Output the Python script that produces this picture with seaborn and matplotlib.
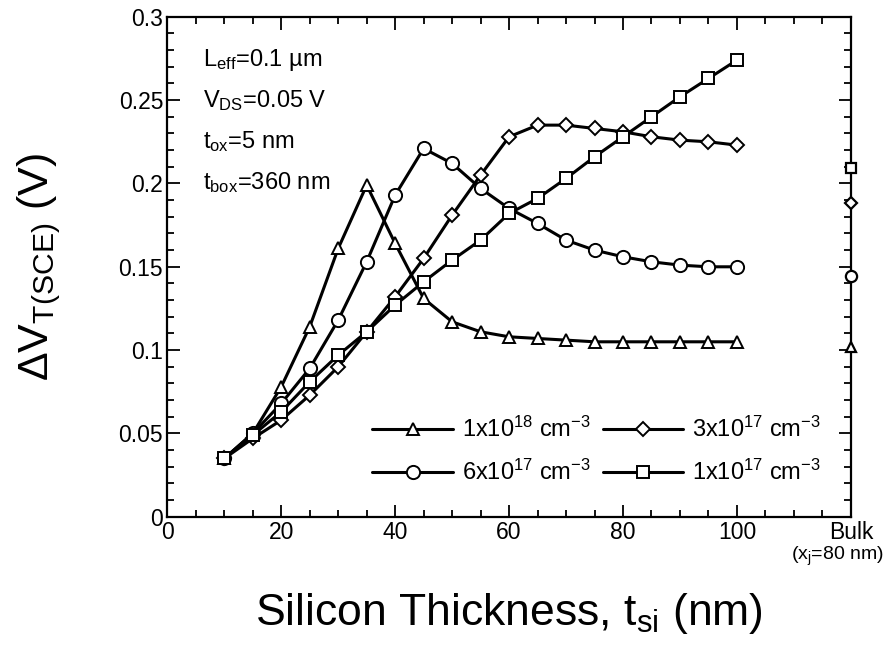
import pandas as pd
import numpy as np
import matplotlib
matplotlib.use('Agg')
import matplotlib.pyplot as plt
import seaborn as sns
from matplotlib.lines import Line2D

# silicon thickness values (nm)
tsi = [10, 15, 20, 25, 30, 35, 40, 45, 50, 55, 60, 65, 70, 75, 80, 85, 90, 95, 100]

# delta VT(SCE) for each doping level
vt_1e18 = [0.035, 0.050, 0.078, 0.114, 0.161, 0.199, 0.164, 0.131, 0.117, 0.111,
           0.108, 0.107, 0.106, 0.105, 0.105, 0.105, 0.105, 0.105, 0.105]
vt_6e17 = [0.035, 0.050, 0.068, 0.089, 0.118, 0.153, 0.193, 0.221, 0.212, 0.197,
           0.185, 0.176, 0.166, 0.160, 0.156, 0.153, 0.151, 0.150, 0.150]
vt_3e17 = [0.035, 0.047, 0.058, 0.073, 0.090, 0.111, 0.132, 0.155, 0.181, 0.205,
           0.228, 0.235, 0.235, 0.233, 0.231, 0.228, 0.226, 0.225, 0.223]
vt_1e17 = [0.035, 0.049, 0.063, 0.081, 0.097, 0.111, 0.127, 0.141, 0.154, 0.166,
           0.182, 0.191, 0.203, 0.216, 0.228, 0.240, 0.252, 0.263, 0.274]

# bulk device values (xj = 80 nm)
bulk_x = 120
bulk_vals = [0.102, 0.1445, 0.188, 0.209]

series_names = ['1e18', '6e17', '3e17', '1e17']
series_labels = [r'1x10$^{18}$ cm$^{-3}$', r'6x10$^{17}$ cm$^{-3}$',
                 r'3x10$^{17}$ cm$^{-3}$', r'1x10$^{17}$ cm$^{-3}$']
marker_map = {'1e18': '^', '6e17': 'o', '3e17': 'D', '1e17': 's'}
size_map = {'1e18': 9, '6e17': 9.5, '3e17': 7.5, '1e17': 9}

df = pd.DataFrame({
    'tsi': tsi * 4,
    'dvt': vt_1e18 + vt_6e17 + vt_3e17 + vt_1e17,
    'doping': np.repeat(series_names, len(tsi)),
})

sns.set_style('ticks')
plt.rcParams['font.family'] = ['Liberation Sans', 'DejaVu Sans']
plt.rcParams['mathtext.default'] = 'regular'
plt.rcParams['text.color'] = 'black'
plt.rcParams['axes.labelcolor'] = 'black'
plt.rcParams['xtick.color'] = 'black'
plt.rcParams['ytick.color'] = 'black'

fig = plt.figure(figsize=(8.9, 6.46), dpi=100)
ax = fig.add_axes([0.188, 0.2, 0.768, 0.774])

# draw each doping curve through seaborn
for name in series_names:
    sub = df[df['doping'] == name]
    sns.lineplot(data=sub, x='tsi', y='dvt', ax=ax, color='black', lw=2.2,
                 marker=marker_map[name], markersize=size_map[name],
                 markerfacecolor='white', markeredgecolor='black',
                 markeredgewidth=1.4, legend=False, zorder=3)

# bulk points sitting on the right spine
for i, name in enumerate(series_names):
    ax.plot(bulk_x, bulk_vals[i], marker=marker_map[name],
            markersize=size_map[name] * 0.85, mfc='white', mec='black', mew=1.6,
            clip_on=False, zorder=5, ls='none')

ax.set_xlim(0, 120)
ax.set_ylim(0, 0.3)
ax.set_xticks([0, 20, 40, 60, 80, 100, 120])
ax.set_xticklabels(['0', '20', '40', '60', '80', '100', 'Bulk'])
ax.set_xticks(np.arange(0, 121, 5), minor=True)
ax.set_yticks([0, 0.05, 0.1, 0.15, 0.2, 0.25, 0.3])
ax.set_yticklabels(['0', '0.05', '0.1', '0.15', '0.2', '0.25', '0.3'])
ax.set_yticks(np.arange(0, 0.301, 0.01), minor=True)
ax.tick_params(which='both', direction='in', top=True, right=True, width=1.3,
               labelsize=16.5, pad=3)
ax.tick_params(which='major', length=9)
ax.tick_params(which='minor', length=5)
for sp in ax.spines.values():
    sp.set_linewidth(1.6)
    sp.set_color('black')

fig.text(0.993, 1 - 556 / 646, r'(x$_j$=80 nm)', fontsize=14, ha='right', va='center')

ax.set_xlabel(r'Silicon Thickness, t$_{si}$ (nm)', fontsize=32, labelpad=34)
ax.set_ylabel(r'ΔV$_{T(SCE)}$ (V)', fontsize=31, labelpad=40)

# device parameters
params = [r'L$_{eff}$=0.1 µm', r'V$_{DS}$=0.05 V', r't$_{ox}$=5 nm', r't$_{box}$=360 nm']
for i, p in enumerate(params):
    ax.text(6.3, 0.274 - i * 0.0245, p, fontsize=17, ha='left', va='center')

handles = [Line2D([], [], color='black', lw=2.2, marker=marker_map[n],
                  markersize=size_map[n], mfc='white', mec='black', mew=1.4)
           for n in series_names]
ax.legend(handles, series_labels, ncol=2, loc='upper left',
          bbox_to_anchor=(0.30, 0.20), frameon=False, fontsize=17,
          handlelength=3.4, columnspacing=0.5, handletextpad=0.4,
          labelspacing=0.75, borderpad=0, borderaxespad=0)

fig.savefig('out.png', dpi=100)
